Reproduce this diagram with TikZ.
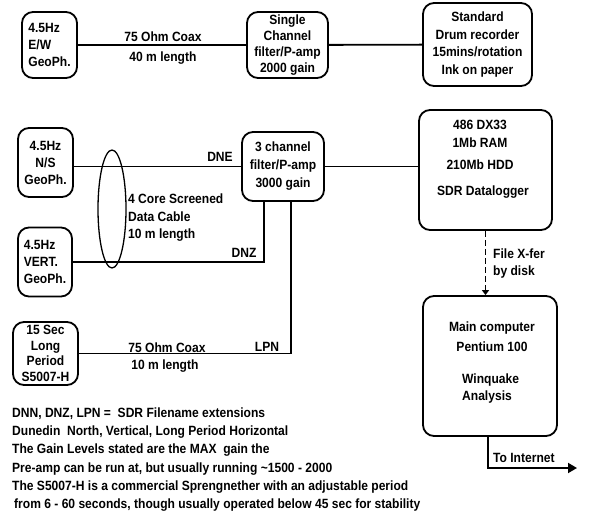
\documentclass[tikz,border=0pt]{standalone}
\usepackage{fontspec}
\setmainfont[FakeStretch=0.9]{Liberation Sans}
\usetikzlibrary{shapes.geometric,arrows.meta}

\tikzset{
  box/.style={draw, rounded corners=11pt, line width=1.8pt, align=center, inner sep=0pt},
  txt/.style={inner sep=0pt, align=left},
  wire/.style={line width=1.8pt}
}
\newcommand{\fsz}[1]{\fontsize{13.4}{#1}\selectfont\bfseries}

\begin{document}
\begin{tikzpicture}[x=1pt, y=-1pt, font=\fsz{17}]
\useasboundingbox (0,0) rectangle (594,521);
\node[box, align=left, minimum width=55pt, minimum height=66pt] (ew) at (49.5,45) {4.5Hz\\E/W\\GeoPh.};
\node[box, minimum width=81pt, minimum height=66pt, font=\fsz{16}] (single) at (287.5,45) {Single\\Channel\\filter/P-amp\\2000 gain};
\node[box, minimum width=109pt, minimum height=83pt, font=\fsz{17.5}] (drum) at (477.5,44.5) {Standard\\Drum recorder\\15mins/rotation\\Ink on paper};
\node[box, minimum width=55pt, minimum height=69pt] (ns) at (45.5,162.5) {4.5Hz\\N/S\\GeoPh.};
\node[box, align=left, minimum width=54pt, minimum height=69pt] (vert) at (45,262) {4.5Hz\\VERT.\\GeoPh.};
\node[box, minimum width=82pt, minimum height=69pt, font=\fsz{18}] (ch3) at (283,166.5) {3 channel\\filter/P-amp\\3000 gain};
\node[box, minimum width=65pt, minimum height=63pt, font=\fsz{15.7}] (lp) at (45.5,353.5) {15 Sec\\Long\\Period\\S5007-H};
\node[box, minimum width=133pt, minimum height=120pt] (sdr) at (485.5,170) {};
\node[txt, align=center, font=\fsz{18}] (sdrtxt) at (480,159) {486 DX33\\1Mb RAM\\[4pt]210Mb HDD\\[8pt]\hspace*{6pt}SDR Datalogger};
\node[box, minimum width=134pt, minimum height=140pt] (main) at (490,366) {};
\node[txt, align=center, font=\fsz{20}] (maintxt) at (492,337) {Main computer\\Pentium 100};
\node[txt, anchor=west] (wq) at (462,388.5) {Winquake\\Analysis};
\node[ellipse, draw, line width=1.3pt, minimum width=28pt, minimum height=118pt, inner sep=0pt] (cable) at (112,209) {};

\coordinate (dnzc) at ([xshift=23pt]ch3.south west);
\coordinate (lpnc) at ([xshift=50pt]ch3.south west);
\coordinate (net) at (577,468);

\draw[wire] (ew) -- (single);
\draw[wire] (single) -- (drum);
\draw[wire] (ch3.west) -- (ch3.west -| ns.east);
\draw[wire] (vert.east) -| (dnzc);
\draw[wire] (lp.east) -| (lpnc);
\draw[wire] (ch3.east) -- (ch3.east -| sdr.west);
\draw[wire, dash pattern=on 6pt off 3pt, -{Triangle[length=5pt,width=7pt]}] (sdr.south) -- (sdr.south |- main.north);
\draw[wire, -{Triangle[length=9pt,width=10pt]}] ([xshift=-2pt]main.south) |- (net);

\node (coax1) at (163,37) {75 Ohm Coax};
\node (len1) at (163,58) {40 m length};
\node (dne) at (220,157) {DNE};
\node[txt, anchor=west, font=\fsz{17.5}] (cabletxt) at (128,218) {4 Core Screened\\Data Cable\\10 m length};
\node (dnz) at (244,253) {DNZ};
\node (lpn) at (267,347) {LPN};
\node (coax2) at (167,348) {75 Ohm Coax};
\node (len2) at (165,366) {10 m length};
\node[txt, anchor=west] (xfer) at (493,264) {File X-fer\\by disk};
\node[txt, anchor=west] (inet) at (493,458) {To Internet};
\node[txt, anchor=west, font=\fsz{18.2}] (notes) at (12,459.5) {DNN, DNZ, LPN =\ \ SDR Filename extensions\\Dunedin\ \ North, Vertical, Long Period Horizontal\\The Gain Levels stated are the MAX\ \ gain the\\Pre-amp can be run at, but usually running \textasciitilde1500 - 2000\\The S5007-H is a commercial Sprengnether with an adjustable period\\\hspace*{2pt}from 6 - 60 seconds, though usually operated below 45 sec for stability};
\end{tikzpicture}
\end{document}
